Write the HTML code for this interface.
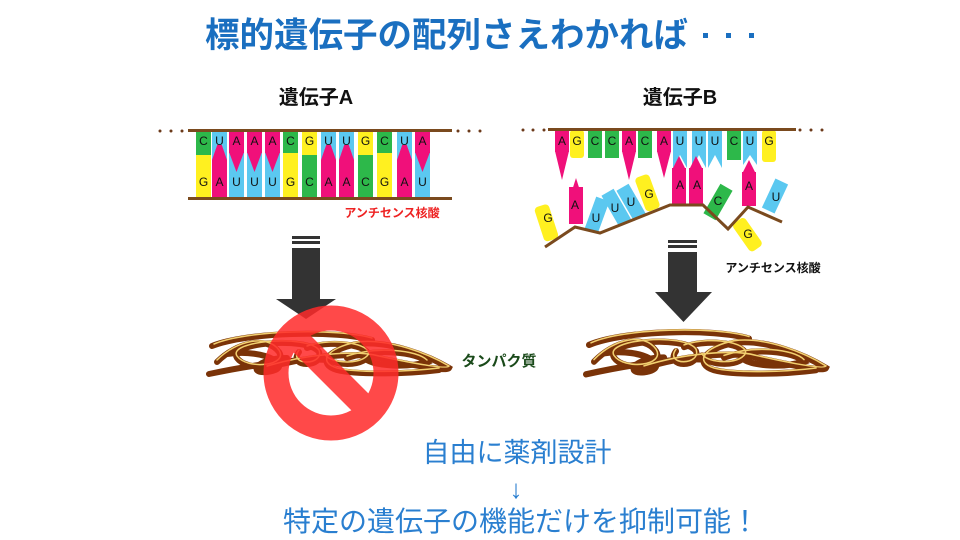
<!DOCTYPE html>
<html><head><meta charset="utf-8"><style>
html,body{margin:0;padding:0;background:#fff}
svg{display:block}
text{font-family:"Liberation Sans","Noto Sans CJK JP",sans-serif}
.b{font-size:12px;fill:#111;text-anchor:middle;font-family:"Liberation Sans",sans-serif}
</style></head><body>
<svg width="960" height="540" viewBox="0 0 960 540" xmlns="http://www.w3.org/2000/svg">
<defs>
<g id="prot" fill="none" stroke-linecap="round">
 <g stroke="#7a3308" stroke-width="6">
  <path d="M5,18 C40,4 130,2 165,12"/>
  <path d="M10,34 C30,14 60,8 72,24 C82,40 40,44 30,30 C20,15 100,8 112,24 C118,40 80,40 92,24"/>
  <path d="M60,40 C100,28 150,24 172,30 C200,36 240,44 242,40 C222,28 182,12 150,16 C120,22 110,36 130,42 C150,47 200,46 232,42"/>
  <path d="M2,46 C40,38 90,30 122,32"/>
  <path d="M100,20 C130,10 170,20 160,30 C150,40 120,36 118,28"/>
  <path d="M20,26 C60,20 90,40 60,44 C40,46 50,30 80,30"/>
  <path d="M140,30 C170,20 210,24 220,34 C200,40 170,38 160,32"/>
 </g>
 <g stroke="#f2d070" stroke-width="1.5">
  <path d="M7,16 C40,2 130,0 165,10"/>
  <path d="M10,32 C30,12 60,6 72,22 C82,38 40,42 30,28 C20,13 100,6 112,22 C118,38 80,38 92,22"/>
  <path d="M60,38 C100,26 150,22 172,28 C200,34 240,42 242,38 C222,26 182,10 150,14 C120,20 110,34 130,40 C150,45 200,44 232,40"/>
  <path d="M100,18 C130,8 170,18 160,28 C150,38 120,34 118,26"/>
  <path d="M140,28 C170,18 210,22 220,32"/>
 </g>
</g>
</defs>

<text x="205" y="47" font-size="34.5" font-weight="bold" fill="#1a6fc0">標的遺伝子の配列さえわかれば</text>
<g fill="#1a6fc0"><rect x="703" y="33" width="5" height="5"/><rect x="726" y="33" width="5" height="5"/><rect x="749" y="33" width="5" height="5"/></g>
<text x="316" y="104" font-size="20" font-weight="bold" fill="#111" text-anchor="middle">遺伝子A</text>
<text x="680" y="104" font-size="20" font-weight="bold" fill="#111" text-anchor="middle">遺伝子B</text>

<!-- Gene A -->
<g fill="#6b3a1a">
 <circle cx="160" cy="131" r="1.5"/><circle cx="171" cy="131" r="1.5"/><circle cx="182" cy="131" r="1.5"/>
 <circle cx="458" cy="131" r="1.5"/><circle cx="469" cy="131" r="1.5"/><circle cx="480" cy="131" r="1.5"/>
</g>
<g>
 <rect x="196" y="152" width="15" height="45" fill="#fff020"/>
 <rect x="212" y="158" width="15" height="39" fill="#f0107a"/><polygon points="212,159 227,159 219.5,138" fill="#f0107a"/>
 <rect x="229" y="150" width="15" height="47" fill="#5bc8f0"/>
 <rect x="247" y="150" width="15" height="47" fill="#5bc8f0"/>
 <rect x="265" y="150" width="15" height="47" fill="#5bc8f0"/>
 <rect x="283" y="152" width="15" height="45" fill="#fff020"/>
 <rect x="302" y="150" width="15" height="47" fill="#2db84a"/>
 <rect x="321" y="158" width="15" height="39" fill="#f0107a"/><polygon points="321,159 336,159 328.5,138" fill="#f0107a"/>
 <rect x="339" y="158" width="15" height="39" fill="#f0107a"/><polygon points="339,159 354,159 346.5,138" fill="#f0107a"/>
 <rect x="358" y="150" width="15" height="47" fill="#2db84a"/>
 <rect x="377" y="152" width="15" height="45" fill="#fff020"/>
 <rect x="397" y="158" width="15" height="39" fill="#f0107a"/><polygon points="397,159 412,159 404.5,138" fill="#f0107a"/>
 <rect x="415" y="150" width="15" height="47" fill="#5bc8f0"/>
</g>
<g>
 <rect x="196" y="131" width="15" height="24" fill="#2db84a"/>
 <rect x="212" y="131" width="15" height="14" fill="#5bc8f0"/><polygon points="212,145 212,160 219.5,138 227,160 227,145" fill="#5bc8f0"/>
 <rect x="229" y="131" width="15" height="22" fill="#f0107a"/><polygon points="229,152 244,152 236.5,172" fill="#f0107a"/>
 <rect x="247" y="131" width="15" height="22" fill="#f0107a"/><polygon points="247,152 262,152 254.5,172" fill="#f0107a"/>
 <rect x="265" y="131" width="15" height="22" fill="#f0107a"/><polygon points="265,152 280,152 272.5,172" fill="#f0107a"/>
 <rect x="283" y="131" width="15" height="22" fill="#2db84a"/>
 <rect x="302" y="131" width="15" height="24" fill="#fff020"/>
 <rect x="321" y="131" width="15" height="14" fill="#5bc8f0"/><polygon points="321,145 321,160 328.5,138 336,160 336,145" fill="#5bc8f0"/>
 <rect x="339" y="131" width="15" height="14" fill="#5bc8f0"/><polygon points="339,145 339,160 346.5,138 354,160 354,145" fill="#5bc8f0"/>
 <rect x="358" y="131" width="15" height="24" fill="#fff020"/>
 <rect x="377" y="131" width="15" height="22" fill="#2db84a"/>
 <rect x="397" y="131" width="15" height="14" fill="#5bc8f0"/><polygon points="397,145 397,160 404.5,138 412,160 412,145" fill="#5bc8f0"/>
 <rect x="415" y="131" width="15" height="22" fill="#f0107a"/><polygon points="415,152 430,152 422.5,172" fill="#f0107a"/>
</g>
<g>
 <text class="b" x="203.5" y="145">C</text><text class="b" x="219.5" y="145">U</text><text class="b" x="236.5" y="145">A</text><text class="b" x="254.5" y="145">A</text><text class="b" x="272.5" y="145">A</text><text class="b" x="290.5" y="145">C</text><text class="b" x="309.5" y="145">G</text><text class="b" x="328.5" y="145">U</text><text class="b" x="346.5" y="145">U</text><text class="b" x="365.5" y="145">G</text><text class="b" x="384.5" y="145">C</text><text class="b" x="404.5" y="145">U</text><text class="b" x="422.5" y="145">A</text>
 <text class="b" x="203.5" y="186">G</text><text class="b" x="219.5" y="186">A</text><text class="b" x="236.5" y="186">U</text><text class="b" x="254.5" y="186">U</text><text class="b" x="272.5" y="186">U</text><text class="b" x="290.5" y="186">G</text><text class="b" x="309.5" y="186">C</text><text class="b" x="328.5" y="186">A</text><text class="b" x="346.5" y="186">A</text><text class="b" x="365.5" y="186">C</text><text class="b" x="384.5" y="186">G</text><text class="b" x="404.5" y="186">A</text><text class="b" x="422.5" y="186">U</text>
</g>
<rect x="188" y="129" width="264" height="3" fill="#7a4a1e"/>
<rect x="188" y="197" width="264" height="3" fill="#7a4a1e"/>
<text x="392" y="217" font-size="12" font-weight="bold" fill="#ee2222" text-anchor="middle">アンチセンス核酸</text>

<!-- Gene B -->
<g fill="#6b3a1a">
 <circle cx="523" cy="130" r="1.5"/><circle cx="533" cy="130" r="1.5"/><circle cx="544" cy="130" r="1.5"/>
 <circle cx="800" cy="130" r="1.5"/><circle cx="811" cy="130" r="1.5"/><circle cx="822" cy="130" r="1.5"/>
</g>
<g>
 <rect x="555" y="130" width="14" height="22" fill="#f0107a"/><polygon points="555,151 569,151 562,180" fill="#f0107a"/>
 <rect x="570" y="130" width="14" height="28" rx="3" fill="#fff020"/>
 <rect x="588" y="130" width="14" height="28" fill="#2db84a"/>
 <rect x="605" y="130" width="14" height="28" fill="#2db84a"/>
 <rect x="622" y="130" width="14" height="22" fill="#f0107a"/><polygon points="622,151 636,151 629,180" fill="#f0107a"/>
 <rect x="638" y="130" width="14" height="28" fill="#2db84a"/>
 <rect x="657" y="130" width="14" height="22" fill="#f0107a"/><polygon points="657,151 671,151 664,178" fill="#f0107a"/>
 <polygon points="673,130 687,130 687,168 680,155 673,168" fill="#5bc8f0"/>
 <polygon points="692,130 706,130 706,168 699,155 692,168" fill="#5bc8f0"/>
 <polygon points="708,130 722,130 722,168 715,155 708,168" fill="#5bc8f0"/>
 <rect x="727" y="130" width="14" height="30" fill="#2db84a"/>
 <polygon points="743,130 757,130 757,165 750,155 743,165" fill="#5bc8f0"/>
 <rect x="762" y="130" width="14" height="32" rx="3" fill="#fff020"/>
</g>
<g>
 <rect x="539" y="205" width="15" height="36" rx="4" fill="#fff020" transform="rotate(-18 546 223)"/>
 <rect x="569" y="187" width="14" height="37" fill="#f0107a"/><polygon points="569,200 583,200 576,178" fill="#f0107a"/>
 <polygon points="590,198 604,198 604,232 590,232" fill="#5bc8f0" transform="rotate(20 597 215)"/>
 <polygon points="609,190 623,190 623,225 609,225" fill="#5bc8f0" transform="rotate(-30 616 207)"/>
 <polygon points="624,185 638,185 638,220 624,220" fill="#5bc8f0" transform="rotate(-30 631 202)"/>
 <rect x="640" y="175" width="15" height="36" rx="4" fill="#fff020" transform="rotate(-20 647 193)"/>
 <rect x="672" y="168" width="14" height="38" fill="#f0107a"/><polygon points="672,170 686,170 679,156" fill="#f0107a"/>
 <rect x="689" y="168" width="14" height="38" fill="#f0107a"/><polygon points="689,170 703,170 696,156" fill="#f0107a"/>
 <rect x="711" y="185" width="14" height="34" fill="#2db84a" transform="rotate(30 718 202)"/>
 <rect x="740" y="218" width="15" height="34" rx="4" fill="#fff020" transform="rotate(-35 747 235)"/>
 <rect x="742" y="172" width="14" height="34" fill="#f0107a"/><polygon points="742,174 756,174 749,160" fill="#f0107a"/>
 <polygon points="768,180 782,180 782,212 768,212" fill="#5bc8f0" transform="rotate(25 775 196)"/>
</g>
<polyline points="545,247 575,227 600,233 670,205 703,205 728,229 748,207 782,222" fill="none" stroke="#7a4a1e" stroke-width="3"/>
<rect x="548" y="128" width="248" height="3" fill="#7a4a1e"/>
<g>
 <text class="b" x="562" y="145">A</text><text class="b" x="577" y="145">G</text><text class="b" x="595" y="145">C</text><text class="b" x="612" y="145">C</text><text class="b" x="629" y="145">A</text><text class="b" x="645" y="145">C</text><text class="b" x="664" y="145">A</text><text class="b" x="680" y="145">U</text><text class="b" x="699" y="145">U</text><text class="b" x="715" y="145">U</text><text class="b" x="734" y="145">C</text><text class="b" x="750" y="145">U</text><text class="b" x="769" y="145">G</text>
 <text class="b" x="548" y="222">G</text><text class="b" x="575" y="209">A</text><text class="b" x="596" y="222">U</text><text class="b" x="615" y="212">U</text><text class="b" x="631" y="206">U</text><text class="b" x="649" y="198">G</text><text class="b" x="680" y="189">A</text><text class="b" x="697" y="189">A</text><text class="b" x="718" y="205">C</text><text class="b" x="748" y="238">G</text><text class="b" x="749" y="190">A</text><text class="b" x="776" y="201">U</text>
</g>
<text x="773" y="272" font-size="12" font-weight="bold" fill="#111" text-anchor="middle">アンチセンス核酸</text>

<g fill="#333">
 <rect x="292" y="236" width="28" height="3"/><rect x="292" y="241" width="28" height="3"/>
 <rect x="292" y="248" width="28" height="52"/><polygon points="276,299 336,299 306,319"/>
 <rect x="668" y="240" width="29" height="3"/><rect x="668" y="245" width="29" height="3"/>
 <rect x="668" y="252" width="29" height="41"/><polygon points="655,292 712,292 683.5,322"/>
</g>

<use href="#prot" transform="translate(207,328)"/>
<use href="#prot" transform="translate(584,326) scale(1.0,1.05)"/>
<text x="499" y="366" font-size="15" font-weight="bold" fill="#1a4a1a" text-anchor="middle">タンパク質</text>

<g opacity="0.85">
 <circle cx="331" cy="373" r="55" fill="none" stroke="#ff2a2a" stroke-width="25"/>
 <line x1="294" y1="336" x2="368" y2="410" stroke="#ff2a2a" stroke-width="24"/>
</g>

<text x="517" y="462" font-size="27" fill="#2a7fd0" text-anchor="middle">自由に薬剤設計</text>
<text x="516" y="498" font-size="26" fill="#2a7fd0" text-anchor="middle">↓</text>
<text x="521" y="531" font-size="28" fill="#2a7fd0" text-anchor="middle">特定の遺伝子の機能だけを抑制可能！</text>
</svg>
</body></html>
